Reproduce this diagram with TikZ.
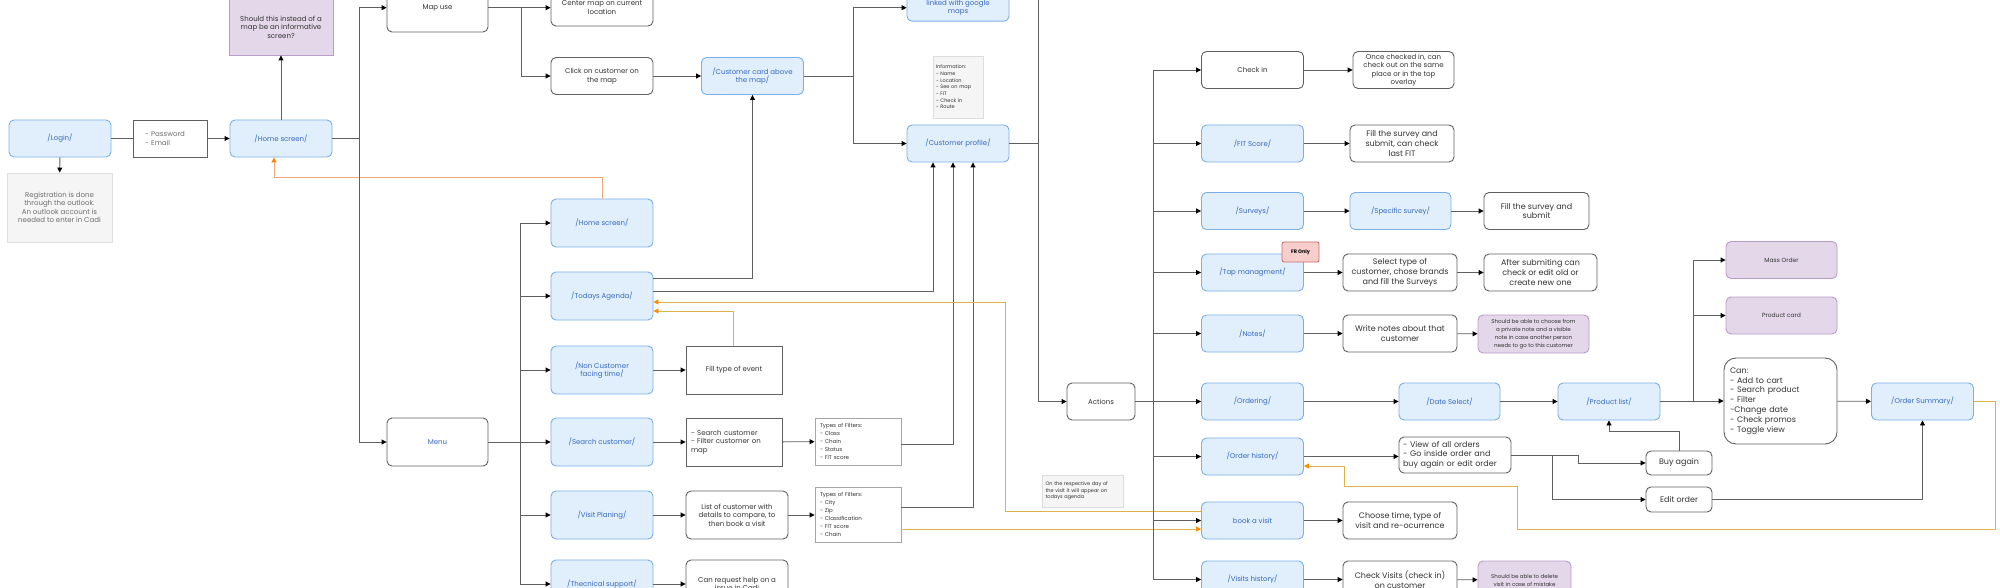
\documentclass[tikz,border=0pt]{standalone}
\usepackage{fontspec}
\setmainfont{Poppins}
\usetikzlibrary{arrows.meta, positioning, calc}
\definecolor{mBlueFill}{HTML}{E1EFFD}
\definecolor{mBlueLine}{HTML}{7AAEE6}
\definecolor{mBlueText}{HTML}{3569BE}
\definecolor{mPurpleFill}{HTML}{E3D7E9}
\definecolor{mPurpleLine}{HTML}{B79CC8}
\definecolor{mNoteFill}{HTML}{F5F5F5}
\definecolor{mNoteLine}{HTML}{DDDDDD}
\definecolor{mNoteText}{HTML}{6E6E6E}
\definecolor{mEdge}{HTML}{606060}
\definecolor{mInk}{HTML}{333333}
\definecolor{mOrange}{HTML}{F2A97C}
\definecolor{mYellow}{HTML}{DDB44A}
\definecolor{mRedFill}{HTML}{F8CECC}
\definecolor{mRedLine}{HTML}{C76E6A}
\newcommand{\fnorm}{\fontsize{7}{8.5}\selectfont}
\newcommand{\fbig}{\fontsize{8}{9.8}\selectfont}
\newcommand{\fnote}{\fontsize{5.5}{8}\selectfont}
\newcommand{\ftiny}{\fontsize{5}{6.7}\selectfont}

\begin{document}
\begin{tikzpicture}[x=1pt, y=-1pt,
    every node/.style={font=\fnorm, inner sep=1pt, align=center, line width=0.9pt},
    screen/.style={draw=mBlueLine, fill=mBlueFill, text=mBlueText, rounded corners=5pt, minimum width=102pt, minimum height=37pt},
    boxw/.style={draw=mEdge, fill=white, text=mInk, rounded corners=5pt, minimum width=102pt, minimum height=37pt},
    boxsq/.style={boxw, sharp corners},
    idea/.style={draw=mPurpleLine, fill=mPurpleFill, text=mInk, rounded corners=5pt, minimum width=111pt, minimum height=37pt},
    note/.style={draw=mNoteLine, fill=mNoteFill, text=mNoteText},
    wh/.style 2 args={minimum width=#1pt, minimum height=#2pt},
    flow/.style={draw=mEdge, line width=0.9pt, -{Triangle[length=5pt, width=5pt, color=black]}},
    link/.style={draw=mEdge, line width=0.9pt},
    back/.style={draw=mYellow, line width=0.9pt, -{Triangle[length=5pt, width=5pt, color=orange!90!yellow]}},
  ]
  \useasboundingbox (0,0) rectangle (2000,588);

  % login and home
  \node[screen] (login) at (60,138.5) {/Login/};
  \node[boxsq, wh={74}{37}, text=mNoteText, text width=50pt, align=left] (cred) at (170,138.5) {- Password\\- Email};
  \node[screen] (home) at (281,138.5) {/Home screen/};
  \node[idea, sharp corners, wh={104}{56}] (infoq) at (281,27) {Should this instead of a\\map be an informative\\screen?};
  \node[note, wh={105}{69}] (reg) at (59.5,207.5) {Registration is done\\through the outlook.\\An outlook account is\\needed to enter in Cadi};

  % map branch
  \node[boxw, wh={101}{48.6}] (mapuse) at (437.5,7.7) {Map use};
  \node[boxw, wh={102}{36.6}] (center) at (602,7.7) {Center map on current\\location};
  \node[boxw] (click) at (602,76) {Click on customer on\\the map};
  \node[screen] (card) at (752.5,76) {/Customer card above\\the map/};
  \node[screen, wh={102}{27}] (google) at (958,7.7) {linked with google\\maps};
  \node[note, wh={50}{62}, font=\ftiny, text=mInk, align=left, text width=44pt] (infonote) at (958,87) {Information:\\- Name\\- Location\\- See on map\\- FIT\\- Check in\\- Route};
  \node[screen] (profile) at (958,143.5) {/Customer profile/};

  % menu branch
  \node[boxw, wh={101}{48}, text=mBlueText] (menu) at (437.5,442) {Menu};
  \node[screen, wh={102}{48}] (home2) at (602,223) {/Home screen/};
  \node[screen, wh={102}{48}] (agenda) at (602,296) {/Todays Agenda/};
  \node[screen, wh={102}{48}] (nonc) at (602,370) {/Non Customer\\facing time/};
  \node[screen, wh={102}{48}] (search) at (602,442) {/Search customer/};
  \node[screen, wh={102}{48}] (visit) at (602,515) {/Visit Planing/};
  \node[screen, wh={102}{48}] (tech) at (602,584) {/Thecnical support/};
  \node[boxsq, wh={96}{48}] (event) at (734,370) {Fill type of event};
  \node[boxsq, wh={96}{48}, align=left, text width=86pt] (searchtxt) at (734,442) {- Search customer\\- Filter customer on\\map};
  \node[boxsq, draw=gray!70, wh={86}{47}, font=\fnote, align=left, text width=76pt] (filt1) at (858,441.5) {Types of Filters:\\- Class\\- Chain\\- Status\\- FIT score};
  \node[boxsq, draw=gray!70, wh={86}{55}, font=\fnote, align=left, text width=76pt] (filt2) at (858,514.5) {Types of Filters:\\- City\\- Zip\\- Classification\\- FIT score\\- Chain};
  \node[boxw, wh={102}{48}] (listc) at (737,515) {List of customer with\\details to compare, to\\then book a visit};
  \node[boxw, wh={102}{48}] (help) at (737,584) {Can request help on a\\issue in Cadi};

  % actions
  \node[boxw, wh={68}{37}] (actions) at (1101,401.5) {Actions};
  \node[note, wh={81}{32}, font=\ftiny, text=mInk, align=left, text width=74pt] (vnote) at (1082.5,491) {On the respective day of\\the visit it will appear on\\todays agenda};
  \node[boxw] (checkin) at (1252.5,70) {Check in};
  \node[screen] (fit) at (1252.5,143.5) {/FIT Score/};
  \node[screen] (surveys) at (1252.5,211) {/Surveys/};
  \node[screen] (tap) at (1252.5,272.5) {/Tap managment/};
  \node[draw=mRedLine, fill=mRedFill, rounded corners=2pt, wh={37}{20}, font=\ftiny\bfseries] (fronly) at (1300.5,252) {FR Only};
  \node[screen] (notes) at (1252.5,333.5) {/Notes/};
  \node[screen] (ordering) at (1252.5,401.5) {/Ordering/};
  \node[screen] (ohist) at (1252.5,456.5) {/Order history/};
  \node[screen] (book) at (1252.5,520.5) {book a visit};
  \node[screen] (vhist) at (1252.5,579.5) {/Visits history/};

  % right part
  \node[boxw, wh={101}{37}] (checked) at (1403.5,70) {Once checked in, can\\check out on the same\\place or in the top\\overlay};
  \node[boxw, wh={104}{37}, font=\fbig] (fitfill) at (1402,143.5) {Fill the survey and\\submit, can check\\last FIT};
  \node[screen, wh={101}{37}] (specific) at (1400.5,211) {/Specific survey/};
  \node[boxw, wh={105}{37}, font=\fbig] (fillsub) at (1536.5,211) {Fill the survey and\\submit};
  \node[boxw, wh={114}{37}, font=\fbig] (select) at (1400,272.5) {Select type of\\customer, chose brands\\and fill the Surveys};
  \node[boxw, wh={113}{37}, font=\fbig] (after) at (1540.5,272.5) {After submiting can\\check or edit old or\\create new one};
  \node[boxw, wh={114}{37}, font=\fbig] (write) at (1400,333.5) {Write notes about that\\customer};
  \node[idea, wh={111}{38}, font=\fnote] (private) at (1533.5,334) {Should be able to choose from\\a private note and a visible\\note in case another person\\needs to go to this customer};
  \node[screen, wh={101}{37}] (datesel) at (1449.5,401.5) {/Date Select/};
  \node[screen] (plist) at (1609,401.5) {/Product list/};
  \node[boxw, wh={112}{36}, font=\fbig, align=left, text width=104pt] (allorders) at (1455,455) {- View of all orders\\- Go inside order and\\buy again or edit order};
  \node[boxw, wh={66}{24}, font=\fbig] (buyagain) at (1679,463) {Buy again};
  \node[boxw, wh={66}{25}, font=\fbig] (editorder) at (1679,499.5) {Edit order};
  \node[boxw, wh={114}{37}, font=\fbig] (choose) at (1400,520.5) {Choose time, type of\\visit and re-ocurrence};
  \node[boxw, wh={114}{37}, font=\fbig] (checkv) at (1400,579.5) {Check Visits (check in)\\on customer};
  \node[idea, wh={93}{38}, font=\fnote] (delete) at (1524.5,580) {Should be able to delete\\visit in case of mistake};
  \node[idea, font=\fontsize{6}{7}\selectfont] (mass) at (1781.5,260) {Mass Order};
  \node[idea, font=\fontsize{6}{7}\selectfont] (pcard) at (1781.5,315.5) {Product card};
  \node[boxw, wh={113}{86}, rounded corners=12pt, font=\fbig, align=left, text width=101pt] (canbox) at (1780.5,401) {Can:\\- Add to cart\\- Search product\\- Filter\\-Change date\\- Check promos\\- Toggle view};
  \node[screen] (summary) at (1922.5,401.5) {/Order Summary/};

  % connectors, left
  \draw[link] (login) -- (cred);
  \draw[flow] (cred) -- (home);
  \draw[flow] (login) -- (reg);
  \draw[flow] (home) -- (infoq);
  \draw[draw=mOrange, line width=0.9pt, -{Triangle[length=5pt, width=5pt, color=orange]}] (home2.north) -- ++(0,-21) -| ([xshift=-7pt]home.south);
  \draw[link] (home.east) -- ++(27,0);
  \draw[flow] ([xshift=27pt]home.east) |- (mapuse.west);
  \draw[flow] ([xshift=27pt]home.east) |- (menu.west);
  \draw[flow] (mapuse) -- (center);
  \draw[flow] ([xshift=32.7pt]mapuse.east) |- (click.west);
  \draw[flow] (click) -- (card);
  \draw[link] (card.east) -- ++(49,0);
  \draw[flow] ([xshift=49pt]card.east) |- (google.west);
  \draw[flow] ([xshift=49pt]card.east) |- (profile.west);

  % menu trunk
  \draw[link] (menu.east) -- ++(32,0);
  \foreach \n in {home2, agenda, nonc, search, visit, tech}
    \draw[flow] ([xshift=32pt]menu.east) |- (\n.west);
  \draw[flow] (nonc) -- (event);
  \draw[flow] (search) -- (searchtxt);
  \draw[flow] (searchtxt) -- (filt1);
  \draw[flow] (visit) -- (listc);
  \draw[flow] (listc.east) -- (filt2.west |- listc.east);
  \draw[flow] (tech) -- (help);
  \draw[flow] ([yshift=18pt]agenda.east) -| (card.south);
  \draw[flow] ([yshift=5pt]agenda.east) -| ([xshift=-25pt]profile.south);
  \draw[flow] ([yshift=-2.5pt]filt1.east) -| ([xshift=-5pt]profile.south);
  \draw[flow] ([yshift=7.5pt]filt2.east) -| ([xshift=15pt]profile.south);
  \draw[back] ([yshift=-14.5pt]filt2.east) -- ([yshift=-8.5pt]book.west);
  \draw[back] ([yshift=9.5pt]book.west) -- ++(-196,0) |- ([yshift=-6pt]agenda.east);
  \draw[back] ([xshift=-1pt]event.north) |- ([yshift=-15pt]agenda.east);

  % actions trunk
  \coordinate (upper) at (1038,-2);
  \draw[link] (profile.east) -- ++(29,0);
  \draw[flow] (upper) |- (actions.west);
  \draw[link] (actions.east) -- ++(18,0);
  \foreach \n in {checkin, fit, surveys, tap, notes, ordering, ohist, book, vhist}
    \draw[flow] ([xshift=18pt]actions.east) |- (\n.west);
  \draw[flow] (checkin) -- (checked);
  \draw[flow] (fit) -- (fitfill);
  \draw[flow] (surveys) -- (specific);
  \draw[flow] (specific) -- (fillsub);
  \draw[flow] (tap) -- (select);
  \draw[flow] (select) -- (after);
  \draw[flow] (notes) -- (write);
  \draw[flow] (write) -- (private);
  \draw[flow] (ordering) -- (datesel);
  \draw[flow] (datesel) -- (plist);
  \draw[flow] (ohist.east) -- (allorders.west |- ohist.east);
  \draw[flow] (book) -- (choose);
  \draw[flow] (vhist) -- (checkv);
  \draw[flow] (checkv) -- (delete);

  % ordering
  \draw[flow] (allorders.east) -- ++(67,0) |- (buyagain.west);
  \draw[flow] (allorders.east) -- ++(41,0) |- (editorder.west);
  \draw[flow] (buyagain.north) -- ++(0,-19.3) -| (plist.south);
  \draw[flow] (editorder.east) -| (summary.south);
  \draw[link] (plist.east) -- ++(33,0);
  \foreach \n in {mass, pcard, canbox}
    \draw[flow] ([xshift=33pt]plist.east) |- (\n.west);
  \draw[flow] (canbox) -- (summary);
  \draw[back] (summary.east) -- ++(21,0) -- ++(0,127.5) -- ++(-478,0) -- ++(0,-42.3) -- ++(-173,0) |- ([yshift=-9.5pt]ohist.east);
\end{tikzpicture}
\end{document}
